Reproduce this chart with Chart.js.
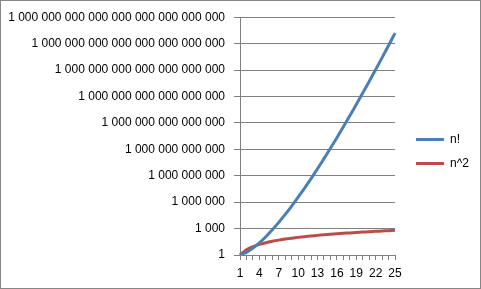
<!DOCTYPE html>
<html>
<head>
<meta charset="utf-8">
<script src="https://cdn.jsdelivr.net/npm/chart.js@4.4.1/dist/chart.umd.min.js"></script>
<style>
    html, body { margin: 0; padding: 0; background: #fff; }
    #wrap {
        position: relative;
        width: 481px;
        height: 289px;
        box-sizing: border-box;
        border: 1px solid #868686;
    }
</style>
</head>
<body>
<div id="wrap"><canvas id="chart"></canvas></div>
<script>
// Kategorien (n)
const labels = ['1', '2', '3', '4', '5', '6', '7', '8', '9', '10', '11', '12', '13',
    '14', '15', '16', '17', '18', '19', '20', '21', '22', '23', '24', '25'];

// n!
const factValues = [1, 2, 6, 24, 120, 720, 5040, 40320, 362880, 3628800, 39916800,
    479001600, 6227020800, 87178291200, 1307674368000, 20922789888000,
    355687428096000, 6402373705728000, 121645100408832000, 2432902008176640000,
    51090942171709440000, 1.124000727777607e21, 2.585201673888498e22,
    6.204484017332394e23, 1.551121004333099e25];

// n^2
const squareValues = [1, 4, 9, 16, 25, 36, 49, 64, 81, 100, 121, 144, 169, 196, 225,
    256, 289, 324, 361, 400, 441, 484, 529, 576, 625];

// Y-Achse
const yTickValues = [1, 1e3, 1e6, 1e9, 1e12, 1e15, 1e18, 1e21, 1e24, 1e27];
const yTickLabels = [
    '1',
    '1 000',
    '1 000 000',
    '1 000 000 000',
    '1 000 000 000 000',
    '1 000 000 000 000 000',
    '1 000 000 000 000 000 000',
    '1 000 000 000 000 000 000 000',
    '1 000 000 000 000 000 000 000 000',
    '1 000 000 000 000 000 000 000 000 000'
];

const COLORS = {
    fact: '#4A7EBB',
    square: '#BE4B48',
    grid: '#808080',
    text: '#000000'
};

Chart.defaults.font.family = '"Liberation Sans", Arial, sans-serif';
Chart.defaults.font.size = 12;
Chart.defaults.color = COLORS.text;

new Chart(document.getElementById('chart'), {
    type: 'line',
    data: {
        labels: labels,
        datasets: [
            {
                label: 'n!',
                data: factValues,
                borderColor: COLORS.fact,
                backgroundColor: COLORS.fact,
                borderWidth: 3,
                pointRadius: 0,
                tension: 0.2,
                fill: false
            },
            {
                label: 'n^2',
                data: squareValues,
                borderColor: COLORS.square,
                backgroundColor: COLORS.square,
                borderWidth: 3,
                pointRadius: 0,
                tension: 0.2,
                fill: false
            }
        ]
    },
    options: {
        responsive: true,
        maintainAspectRatio: false,
        animation: false,
        layout: { padding: { top: 14, right: 1, bottom: 0, left: 0 } },
        plugins: {
            tooltip: { enabled: false },
            legend: {
                position: 'right',
                labels: {
                    usePointStyle: true,
                    pointStyle: 'line',
                    pointStyleWidth: 28,
                    padding: 12,
                    font: { size: 12 }
                }
            }
        },
        scales: {
            x: {
                type: 'category',
                offset: false,
                grid: {
                    display: true,
                    drawOnChartArea: false,
                    drawTicks: true,
                    tickLength: 5,
                    color: COLORS.grid
                },
                border: { display: true, color: COLORS.grid, width: 1 },
                ticks: {
                    autoSkip: false,
                    maxRotation: 0,
                    padding: 6,
                    callback: (v, i) => (i % 3 === 0 ? labels[i] : '')
                },
                afterFit: s => { s.height = 33; }
            },
            y: {
                type: 'logarithmic',
                min: 1,
                max: 1e27,
                afterBuildTicks: s => {
                    s.ticks = yTickValues.map(v => ({ value: v }));
                },
                grid: {
                    color: COLORS.grid,
                    tickLength: 6,
                    drawTicks: true
                },
                border: { display: true, color: COLORS.grid, width: 1 },
                ticks: {
                    padding: 9,
                    callback: (v) => {
                        const i = yTickValues.indexOf(v);
                        return i >= 0 ? yTickLabels[i] : '';
                    }
                },
                afterFit: s => { s.width = 239; }
            },
            y2: {
                position: 'right',
                display: true,
                grid: { display: false, drawTicks: false },
                border: { display: false },
                ticks: { display: false },
                afterFit: s => { s.width = 9; }
            }
        }
    }
});
</script>
</body>
</html>
